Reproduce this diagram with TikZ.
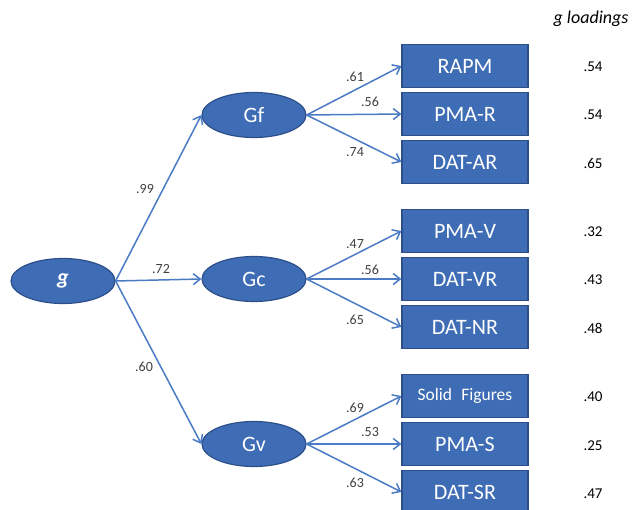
\documentclass[tikz,border=0pt]{standalone}
\usepackage{fontspec}
\setmainfont{Carlito}
\usetikzlibrary{shapes.geometric,arrows.meta}
\definecolor{boxfill}{HTML}{3F6DB5}
\definecolor{boxline}{HTML}{2C4F8A}
\definecolor{arrowc}{HTML}{4A7BC4}
\definecolor{labc}{HTML}{404040}
\tikzset{
  testbox/.style={draw=boxline, line width=1.2pt, fill=boxfill, minimum width=126pt, minimum height=43pt, inner sep=0pt, text=white, font=\fontsize{22}{24}\selectfont},
  factor/.style={ellipse, draw=boxline, line width=1.2pt, fill=boxfill, minimum width=104pt, minimum height=45pt, inner sep=0pt, text=white, font=\fontsize{22}{24}\selectfont},
  path/.style={draw=arrowc, line width=1.5pt, -{Straight Barb[length=7pt,width=11pt,line width=1.5pt]}},
  wlab/.style={text=labc, font=\fontsize{14}{16}\selectfont, inner sep=0pt},
  gload/.style={text=black, font=\fontsize{15}{17}\selectfont, inner sep=0pt}
}
\begin{document}
\begin{tikzpicture}[x=1pt,y=-1pt]
\useasboundingbox (0,0) rectangle (633,510);
% factors
\node[factor] (g) at (63,281) {\bfseries\itshape g};
\node[factor] (Gf) at (254,115) {Gf};
\node[factor] (Gc) at (254,279) {Gc};
\node[factor] (Gv) at (254,444) {Gv};
% tests
\node[testbox] (RAPM) at (465,66) {RAPM};
\node[testbox] (PMAR) at (465,114) {PMA-R};
\node[testbox] (DATAR) at (465,162) {DAT-AR};
\node[testbox] (PMAV) at (465,231) {PMA-V};
\node[testbox] (DATVR) at (465,279) {DAT-VR};
\node[testbox] (DATNR) at (465,327) {DAT-NR};
\node[testbox, font=\fontsize{17.5}{20}\selectfont] (SF) at (465,396) {Solid\hspace{0.3em} Figures};
\node[testbox] (PMAS) at (465,444) {PMA-S};
\node[testbox] (DATSR) at (465,492) {DAT-SR};
% paths
\draw[path] (g.east) -- (Gf.west);
\draw[path] (g.east) -- (Gc.west);
\draw[path] (g.east) -- (Gv.west);
\foreach \f/\a/\b/\c in {Gf/RAPM/PMAR/DATAR, Gc/PMAV/DATVR/DATNR, Gv/SF/PMAS/DATSR}{
  \draw[path] (\f.east) -- (\a.west);
  \draw[path] (\f.east) -- (\b.west);
  \draw[path] (\f.east) -- (\c.west);
}
% path labels
\node[wlab] (l99) at (145,189) {.99};
\node[wlab] (l72) at (161,269) {.72};
\node[wlab] (l60) at (144,367) {.60};
\node[wlab] (l61) at (355,77) {.61};
\node[wlab] (l56a) at (370,102) {.56};
\node[wlab] (l74) at (355,152) {.74};
\node[wlab] (l47) at (355,244) {.47};
\node[wlab] (l56b) at (370,270) {.56};
\node[wlab] (l65) at (355,320) {.65};
\node[wlab] (l69) at (355,408) {.69};
\node[wlab] (l53) at (370,432) {.53};
\node[wlab] (l63) at (355,483) {.63};
% g loadings
\node[text=black, font=\fontsize{18}{20}\selectfont\itshape, inner sep=0pt] (gl) at (591,19) {g loadings};
\node[gload] (a1) at (593,67) {.54};
\node[gload] (a2) at (593,115) {.54};
\node[gload] (a3) at (593,163) {.65};
\node[gload] (a4) at (593,232) {.32};
\node[gload] (a5) at (593,280) {.43};
\node[gload] (a6) at (593,328) {.48};
\node[gload] (a7) at (593,397) {.40};
\node[gload] (a8) at (593,446) {.25};
\node[gload] (a9) at (593,494) {.47};
\end{tikzpicture}
\end{document}
